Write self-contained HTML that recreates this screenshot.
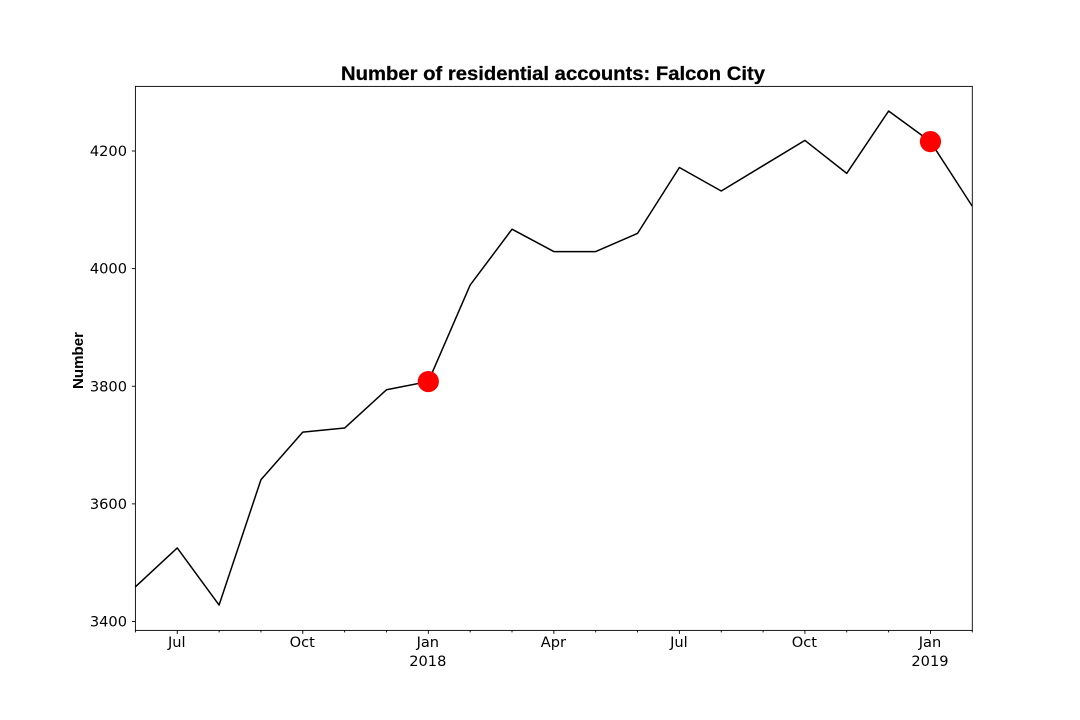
<!DOCTYPE html>
<html>
<head>
<meta charset="utf-8">
<title>Number of residential accounts: Falcon City</title>
<style>
  html, body { margin: 0; padding: 0; background: #fff; }
  svg { display: block; }
  text { font-family: "DejaVu Sans", sans-serif; fill: #000; }
</style>
</head>
<body>
<svg id="chart" width="1080" height="720" viewBox="0 0 1080 720" xmlns="http://www.w3.org/2000/svg">
  <rect x="0" y="0" width="1080" height="720" fill="#fff"/>
  <text x="553" y="80" text-anchor="middle" font-size="19" font-weight="700" style="font-family:'Liberation Sans',sans-serif;stroke:#000;stroke-width:0.25" textLength="424" lengthAdjust="spacingAndGlyphs">Number of residential accounts: Falcon City</text>
  <text transform="translate(83,360.5) rotate(-90)" text-anchor="middle" font-size="14.5" font-weight="700" style="font-family:'Liberation Sans',sans-serif" textLength="57" lengthAdjust="spacingAndGlyphs">Number</text>
  <g id="marks"></g>
  <g id="axes"></g>
</svg>
<script>
const months = [
  "2017-06","2017-07","2017-08","2017-09","2017-10","2017-11","2017-12",
  "2018-01","2018-02","2018-03","2018-04","2018-05","2018-06","2018-07",
  "2018-08","2018-09","2018-10","2018-11","2018-12","2019-01","2019-02"
];
const accounts = [
  3459,3525,3428,3641,3722,3729,3794,
  3808,3972,4067,4029,4029,4060,4172,
  4132,4175,4218,4162,4268,4216,4106
];
const highlightMonths = ["2018-01","2019-01"];
const yTicks = [3400,3600,3800,4000,4200];
const xTickMonths = ["2017-07","2017-10","2018-01","2018-04","2018-07","2018-10","2019-01"];
const xTickLabels = ["Jul","Oct","Jan","Apr","Jul","Oct","Jan"];
const xTickYears = ["","","2018","","","","2019"];

const plotLeft = 135.4, plotRight = 972.3, plotTop = 86.4, plotBottom = 630.4;
const NS = "http://www.w3.org/2000/svg";
const marks = document.getElementById("marks");
const axes = document.getElementById("axes");

function xScale(month) {
  const i = months.indexOf(month);
  return plotLeft + i * (plotRight - plotLeft) / (months.length - 1);
}
function yScale(v) {
  return 621.5 - (v - 3400) * (621.5 - 151) / 800;
}
function make(tag, attrs, parent) {
  const el = document.createElementNS(NS, tag);
  for (const k in attrs) el.setAttribute(k, attrs[k]);
  parent.appendChild(el);
  return el;
}

const clip = make("clipPath", { id: "plot-clip" }, marks);
make("rect", { x: plotLeft, y: plotTop, width: plotRight - plotLeft, height: plotBottom - plotTop }, clip);

const line = make("polyline", {
  points: months.map((m, i) => xScale(m).toFixed(2) + "," + yScale(accounts[i]).toFixed(2)).join(" "),
  fill: "none", stroke: "#000", "stroke-width": 1.5, "stroke-linejoin": "round", "clip-path": "url(#plot-clip)"
}, marks);



highlightMonths.forEach(m => {
  const dot = make("circle", { cx: xScale(m), cy: yScale(accounts[months.indexOf(m)]), r: 10.6, fill: "#f00" }, marks);
  
  
});

const frame = make("rect", {
  x: plotLeft, y: plotTop, width: plotRight - plotLeft, height: plotBottom - plotTop,
  fill: "none", stroke: "#000", "stroke-width": 0.9
}, axes);



yTicks.forEach(v => {
  const y = yScale(v);
  const tick = make("line", { x1: plotLeft - 3.5, x2: plotLeft, y1: y, y2: y, stroke: "#000", "stroke-width": 0.9 }, axes);
  
  
  const label = make("text", { x: 127, y: y + 5, "text-anchor": "end", "font-size": 14.6 }, axes);
  label.textContent = v;
  
  
});

months.forEach(m => {
  const major = xTickMonths.includes(m);
  const x = xScale(m);
  const tick = make("line", { x1: x, x2: x, y1: plotBottom, y2: plotBottom + (major ? 3.5 : 2), stroke: "#000", "stroke-width": 0.9 }, axes);
  
  
});

xTickMonths.forEach((m, i) => {
  const x = xScale(m) - 0.5;
  const label = make("text", { x: x, y: 647, "text-anchor": "middle", "font-size": 14.6 }, axes);
  label.textContent = xTickLabels[i];
  
  
  if (xTickYears[i]) {
    const year = make("text", { x: x, y: 666, "text-anchor": "middle", "font-size": 14.6 }, axes);
    year.textContent = xTickYears[i];
    
    
  }
});
</script>
</body>
</html>
